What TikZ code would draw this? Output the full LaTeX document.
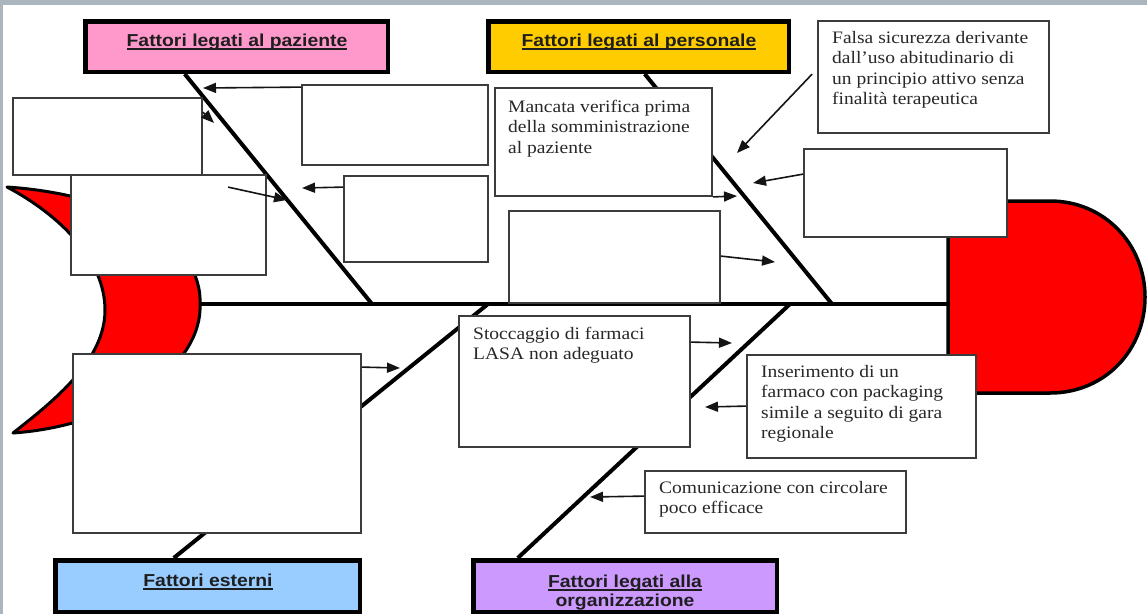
\documentclass[tikz,border=0pt]{standalone}
\usepackage{fontspec}
\setmainfont{Liberation Serif}
\newfontfamily\bodyfont[FakeStretch=1.115]{Liberation Serif}
\newfontfamily\labelfont[FakeStretch=1.12]{Liberation Sans}
\newsavebox\ulbox
\newcommand\ulx[1]{\leavevmode\sbox\ulbox{#1}\rlap{\rule[-3.6pt]{\wd\ulbox}{1.3pt}}\usebox\ulbox}
\usetikzlibrary{arrows.meta,fit}
\pgfdeclarelayer{bg}
\pgfdeclarelayer{mid}
\pgfsetlayers{bg,mid,main}
\definecolor{bandgray}{RGB}{170,181,189}
\definecolor{boxgray}{RGB}{60,60,60}
\definecolor{arrowgray}{RGB}{20,20,20}
\definecolor{textgray}{RGB}{40,40,40}
\definecolor{labtext}{RGB}{30,30,30}
\definecolor{fishred}{RGB}{255,0,0}
\definecolor{pinkc}{RGB}{255,153,204}
\definecolor{yellowc}{RGB}{255,204,0}
\definecolor{bluec}{RGB}{153,204,255}
\definecolor{purplec}{RGB}{204,153,255}
\newcommand\btxt[1]{\parbox[t]{270pt}{\fontsize{17.5}{20.5}\selectfont #1}}
\tikzset{
  wbox/.style={draw=boxgray, line width=1.8pt, fill=white, inner sep=0pt},
  lbox/.style={draw=black, line width=4.5pt, inner sep=0pt},
  bone/.style={draw=black, line width=4pt},
  arr/.style={draw=arrowgray, line width=1.6pt, -{Triangle[length=13pt,width=10pt]}},
  btext/.style={font=\bodyfont, text=textgray, inner sep=0pt, anchor=base west},
  ltext/.style={font=\labelfont\bfseries\fontsize{17.3}{19.5}\selectfont, text=labtext, inner sep=0pt, anchor=base},
  redshape/.style={fill=fishred, draw=black, line width=3pt, line join=round},
}
\begin{document}
\begin{tikzpicture}[x=1pt,y=-1pt]
\useasboundingbox (0,0) rectangle (1147,614);
\begin{pgfonlayer}{bg}
\fill[white] (0,0) rectangle (1147,614);
\fill[bandgray] (0,0) rectangle (1147,5);
\fill[bandgray] (0,0) rectangle (3,614);
% fish tail and head
\draw[redshape] (7,187) .. controls (125,195) and (203,245) .. (200,304)
  .. controls (203,362) and (125,425) .. (13,433)
  .. controls (55,400) and (105,360) .. (105,310)
  .. controls (105,260) and (60,215) .. (7,187) -- cycle;
\draw[redshape, line width=3.5pt] (948,201) -- (1050,201)
  .. controls (1105,201) and (1145,245) .. (1145,297)
  .. controls (1145,350) and (1105,393) .. (1050,393) -- (948,393) -- cycle;
\end{pgfonlayer}

\coordinate (tailR) at (200,304);
\coordinate (headL) at (948,304);
\coordinate (j1) at (372,304);
\coordinate (j2) at (832,304);
\coordinate (j3) at (488,304);
\coordinate (j4) at (790,304);

% category boxes
\node[lbox, fill=pinkc,   fit={(85.25,21.25) (387.75,71.75)}] (P) {};
\node[lbox, fill=yellowc, fit={(488.25,21.25) (788.75,71.75)}] (Y) {};
\node[lbox, fill=bluec,   fit={(55.25,560.25) (359.75,611.75)}] (X) {};
\node[lbox, fill=purplec, fit={(473.25,560.25) (776.75,611.75)}] (O) {};

% spine and bones (behind boxes)
\begin{pgfonlayer}{mid}
\draw[bone] (tailR) -- (headL);
\draw[bone] ([xshift=101.75pt]P.south west) -- (j1);
\draw[bone] ([xshift=158.75pt]Y.south west) -- (j2);
\draw[bone] ([xshift=120.75pt]X.north west) -- (j3);
\draw[bone] ([xshift=46.75pt]O.north west) -- (j4);
\end{pgfonlayer}

% white boxes
\node[wbox, fit={(13,98) (202,175)}] (A) {};
\node[wbox, fit={(71,175) (266,275)}] (B) {};
\node[wbox, fit={(302,85) (488,165)}] (C) {};
\node[wbox, fit={(344,176) (488,262)}] (D) {};
\node[wbox, fit={(495,88) (712,196)}] (E) {};
\node[wbox, fit={(509,211) (720,303)}] (F) {};
\node[wbox, fit={(818,21) (1049,133)}] (G) {};
\node[wbox, fit={(804,149) (1007,237)}] (H) {};
\node[wbox, fit={(459,316) (690,447)}] (I) {};
\node[wbox, fit={(747,355) (976,458)}] (J) {};
\node[wbox, fit={(73,354) (361,533)}] (K) {};
\node[wbox, fit={(645,471) (906,533)}] (L) {};

% arrow tips
\coordinate (a1) at (203,88);
\coordinate (a2) at (214,123);
\coordinate (a3) at (302,188);
\coordinate (a4) at (287,200);
\coordinate (a5) at (737,196);
\coordinate (a6) at (737,153);
\coordinate (a7) at (753,183);
\coordinate (a8) at (775,262);
\coordinate (a9) at (400,368);
\coordinate (a10) at (732,343);
\coordinate (a11) at (705,407);
\coordinate (a12) at (590,497);

\draw[arr] ([yshift=-3pt]C.north west) -- (a1);
\draw[arr] ([yshift=-15pt]A.north east) -- (a2);
\draw[arr] ([yshift=-12pt]D.north west) -- (a3);
\draw[arr] ([xshift=158pt,yshift=-13pt]B.north west) -- (a4);
\draw[arr] (E.south east) -- (a5);
\draw[arr] ([xshift=-5pt,yshift=-54pt]G.north west) -- (a6);
\draw[arr] ([yshift=-26pt]H.north west) -- (a7);
\draw[arr] ([yshift=-46pt]F.north east) -- (a8);
\draw[arr] ([yshift=-14pt]K.north east) -- (a9);
\draw[arr] ([yshift=-27pt]I.north east) -- (a10);
\draw[arr] ([yshift=-52pt]J.north west) -- (a11);
\draw[arr] ([yshift=-26pt]L.north west) -- (a12);

% category labels
\node[ltext] (Pt) at (237,46) {\ulx{Fattori legati al paziente}};
\node[ltext] (Yt) at (639,46) {\ulx{Fattori legati al personale}};
\node[ltext] (Xt) at (208,586) {\ulx{Fattori esterni}};
\node[ltext] (Ot) at (625,587) {\parbox[t]{300pt}{\centering\fontsize{17.3}{19.5}\selectfont\ulx{Fattori legati alla}\\organizzazione}};

% box texts
\node[btext] (Et) at (508,112) {\btxt{Mancata verifica prima\\della somministrazione\\al paziente}};
\node[btext] (Gt) at (832,43) {\btxt{Falsa sicurezza derivante\\dall’uso abitudinario di\\un principio attivo senza\\finalità terapeutica}};
\node[btext] (It) at (473,339) {\btxt{Stoccaggio di farmaci\\LASA non adeguato}};
\node[btext] (Jt) at (761,377) {\btxt{Inserimento di un\\farmaco con packaging\\simile a seguito di gara\\regionale}};
\node[btext] (Lt) at (659,493) {\btxt{Comunicazione con circolare\\poco efficace}};
\end{tikzpicture}
\end{document}
